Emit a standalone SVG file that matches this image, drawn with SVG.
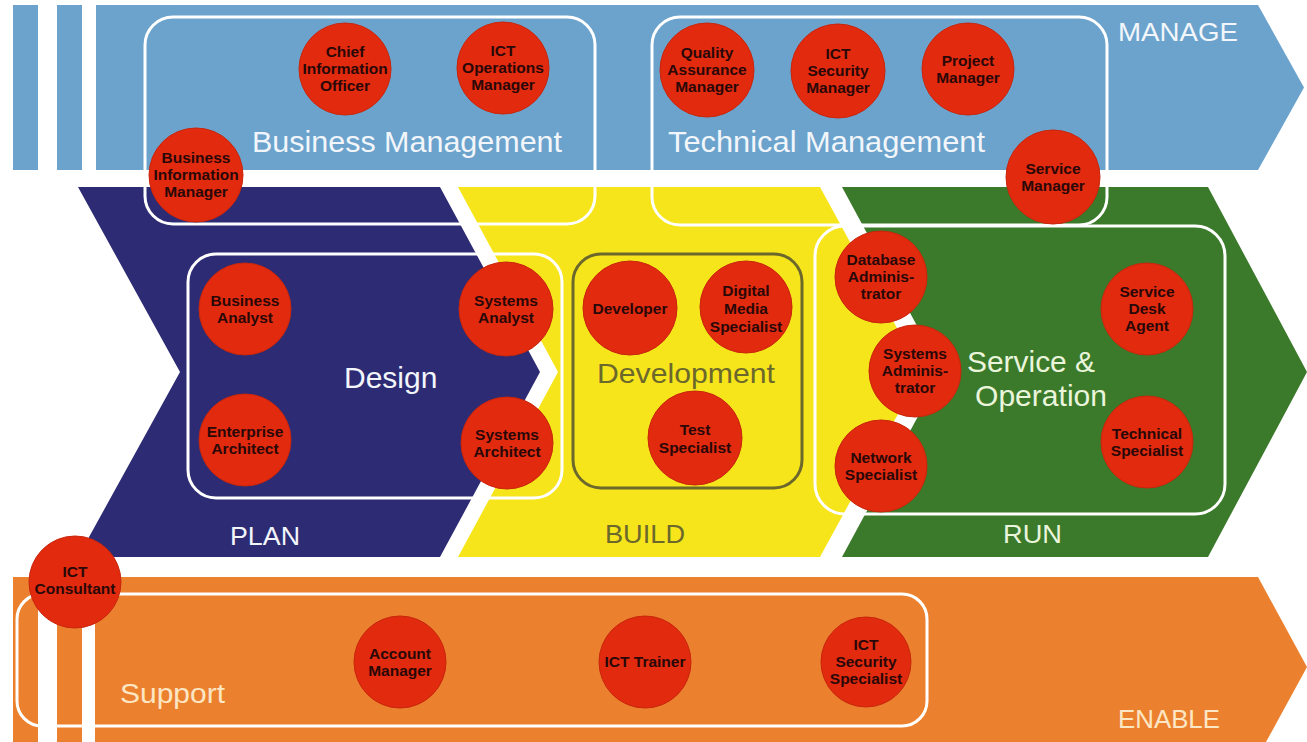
<svg xmlns="http://www.w3.org/2000/svg" width="1307" height="742" viewBox="0 0 1307 742">
<style>
.box{fill:none;stroke:#ffffff;stroke-width:3}
.dev{fill:none;stroke:#6c682c;stroke-width:3}
.c{fill:#e12a0e;stroke:#c8260c;stroke-width:1}
.lbl{font-family:"Liberation Sans",Arial,sans-serif;font-weight:bold;font-size:15.5px;fill:#2a0808;text-anchor:middle}
.big{font-family:"Liberation Sans",Arial,sans-serif;fill:#f2f6fa}
.olive{fill:#6c682c}
.cream{fill:#fde6c4}
.pale{fill:#eaf5dc}
</style>
<rect width="1307" height="742" fill="#ffffff"/>
<g id="band-manage" fill="#6ba3cd">
<rect x="13" y="5" width="25" height="165"/>
<rect x="57" y="5" width="25" height="165"/>
<polygon points="96,5 1258,5 1304,87.5 1258,170 96,170"/>
</g>
<g id="band-plan"><polygon fill="#2d2b74" points="78,187 440,187 540,372 440,557 78,557 180,372"/></g>
<g id="band-build"><polygon fill="#f7e51c" points="458,187 820,187 921,372 820,557 458,557 558,372"/></g>
<g id="band-run"><polygon fill="#3b7a2b" points="842,187 1208,187 1307,372 1208,557 842,557 942,372"/></g>
<g id="band-enable" fill="#eb812e">
<rect x="13" y="577" width="25" height="165"/>
<rect x="57" y="577" width="25" height="165"/>
<polygon points="95,577 1258,577 1307,667 1266,742 95,742"/>
</g>
<g id="boxes">
<rect id="box-business" class="box" x="145" y="17" width="450" height="207" rx="28"/>
<rect id="box-technical" class="box" x="652" y="17" width="455" height="208" rx="28"/>
<rect id="box-design" class="box" x="188" y="254" width="374" height="244" rx="28"/>
<rect id="box-development" class="dev" x="573" y="254" width="229" height="234" rx="28"/>
<rect id="box-service" class="box" stroke="#f2f8dc" x="815" y="226" width="410" height="288" rx="30"/>
<rect id="box-support" class="box" stroke="#fde9cc" x="17" y="594" width="910" height="132" rx="25"/>
</g>
<g id="labels">
<text class="big" x="1118" y="41" font-size="25" textLength="120" lengthAdjust="spacingAndGlyphs">MANAGE</text>
<text class="big" x="252" y="152" font-size="29" textLength="310" lengthAdjust="spacingAndGlyphs">Business Management</text>
<text class="big" x="668" y="152" font-size="29" textLength="317" lengthAdjust="spacingAndGlyphs">Technical Management</text>
<text class="big" x="344" y="388" font-size="30">Design</text>
<text class="big" x="230" y="545" font-size="25" textLength="70" lengthAdjust="spacingAndGlyphs">PLAN</text>
<text class="big olive" x="597" y="383" font-size="28" textLength="178" lengthAdjust="spacingAndGlyphs">Development</text>
<text class="big olive" x="605" y="543" font-size="25" textLength="80" lengthAdjust="spacingAndGlyphs">BUILD</text>
<text class="big pale" x="967" y="372" font-size="30" textLength="128" lengthAdjust="spacingAndGlyphs">Service &amp;</text>
<text class="big pale" x="975" y="406" font-size="30" textLength="132" lengthAdjust="spacingAndGlyphs">Operation</text>
<text class="big pale" x="1003" y="543" font-size="25" textLength="59" lengthAdjust="spacingAndGlyphs">RUN</text>
<text class="big cream" x="120" y="703" font-size="27" textLength="105" lengthAdjust="spacingAndGlyphs">Support</text>
<text class="big cream" x="1118" y="728" font-size="25" textLength="102" lengthAdjust="spacingAndGlyphs">ENABLE</text>
</g>
<g id="connectors"/>
<g id="n-cio"><circle class="c" cx="345" cy="69" r="46"/><text class="lbl"><tspan x="345" y="57">Chief</tspan><tspan x="345" y="74">Information</tspan><tspan x="345" y="91">Officer</tspan></text></g>
<g id="n-ictopsmgr"><circle class="c" cx="503" cy="68" r="46"/><text class="lbl"><tspan x="503" y="56">ICT</tspan><tspan x="503" y="73">Operations</tspan><tspan x="503" y="90">Manager</tspan></text></g>
<g id="n-bim"><circle class="c" cx="196" cy="175" r="47"/><text class="lbl"><tspan x="196" y="163">Business</tspan><tspan x="196" y="180">Information</tspan><tspan x="196" y="197">Manager</tspan></text></g>
<g id="n-qam"><circle class="c" cx="707" cy="70" r="47"/><text class="lbl"><tspan x="707" y="58">Quality</tspan><tspan x="707" y="75">Assurance</tspan><tspan x="707" y="92">Manager</tspan></text></g>
<g id="n-ictsecmgr"><circle class="c" cx="838" cy="71" r="47"/><text class="lbl"><tspan x="838" y="59">ICT</tspan><tspan x="838" y="76">Security</tspan><tspan x="838" y="93">Manager</tspan></text></g>
<g id="n-pm"><circle class="c" cx="968" cy="69" r="46"/><text class="lbl"><tspan x="968" y="66">Project</tspan><tspan x="968" y="83">Manager</tspan></text></g>
<g id="n-sm"><circle class="c" cx="1053" cy="177" r="47"/><text class="lbl"><tspan x="1053" y="174">Service</tspan><tspan x="1053" y="191">Manager</tspan></text></g>
<g id="n-ba"><circle class="c" cx="245" cy="309" r="46"/><text class="lbl"><tspan x="245" y="306">Business</tspan><tspan x="245" y="323">Analyst</tspan></text></g>
<g id="n-ea"><circle class="c" cx="245" cy="440" r="46"/><text class="lbl"><tspan x="245" y="437">Enterprise</tspan><tspan x="245" y="454">Architect</tspan></text></g>
<g id="n-sa"><circle class="c" cx="506" cy="309" r="47"/><text class="lbl"><tspan x="506" y="306">Systems</tspan><tspan x="506" y="323">Analyst</tspan></text></g>
<g id="n-sarch"><circle class="c" cx="507" cy="443" r="46"/><text class="lbl"><tspan x="507" y="440">Systems</tspan><tspan x="507" y="457">Architect</tspan></text></g>
<g id="n-dev"><circle class="c" cx="630" cy="308" r="47"/><text class="lbl"><tspan x="630" y="314">Developer</tspan></text></g>
<g id="n-dms"><circle class="c" cx="746" cy="307" r="46"/><text class="lbl"><tspan x="746" y="296">Digital</tspan><tspan x="746" y="314">Media</tspan><tspan x="746" y="332">Specialist</tspan></text></g>
<g id="n-ts"><circle class="c" cx="695" cy="438" r="47"/><text class="lbl"><tspan x="695" y="435">Test</tspan><tspan x="695" y="453">Specialist</tspan></text></g>
<g id="n-dba"><circle class="c" cx="881" cy="277" r="46"/><text class="lbl"><tspan x="881" y="265">Database</tspan><tspan x="881" y="282">Adminis-</tspan><tspan x="881" y="299">trator</tspan></text></g>
<g id="n-sysadm"><circle class="c" cx="915" cy="371" r="46"/><text class="lbl"><tspan x="915" y="359">Systems</tspan><tspan x="915" y="376">Adminis-</tspan><tspan x="915" y="393">trator</tspan></text></g>
<g id="n-ns"><circle class="c" cx="881" cy="466" r="46"/><text class="lbl"><tspan x="881" y="463">Network</tspan><tspan x="881" y="480">Specialist</tspan></text></g>
<g id="n-sda"><circle class="c" cx="1147" cy="309" r="46"/><text class="lbl"><tspan x="1147" y="297">Service</tspan><tspan x="1147" y="314">Desk</tspan><tspan x="1147" y="331">Agent</tspan></text></g>
<g id="n-techspec"><circle class="c" cx="1147" cy="442" r="46"/><text class="lbl"><tspan x="1147" y="439">Technical</tspan><tspan x="1147" y="456">Specialist</tspan></text></g>
<g id="n-ictcons"><circle class="c" cx="75" cy="582" r="46"/><text class="lbl"><tspan x="75" y="577">ICT</tspan><tspan x="75" y="594">Consultant</tspan></text></g>
<g id="n-am"><circle class="c" cx="400" cy="662" r="46"/><text class="lbl"><tspan x="400" y="659">Account</tspan><tspan x="400" y="676">Manager</tspan></text></g>
<g id="n-icttrainer"><circle class="c" cx="645" cy="662" r="46"/><text class="lbl"><tspan x="645" y="667">ICT Trainer</tspan></text></g>
<g id="n-ictsecspec"><circle class="c" cx="866" cy="662" r="45"/><text class="lbl"><tspan x="866" y="650">ICT</tspan><tspan x="866" y="667">Security</tspan><tspan x="866" y="684">Specialist</tspan></text></g>
</svg>
